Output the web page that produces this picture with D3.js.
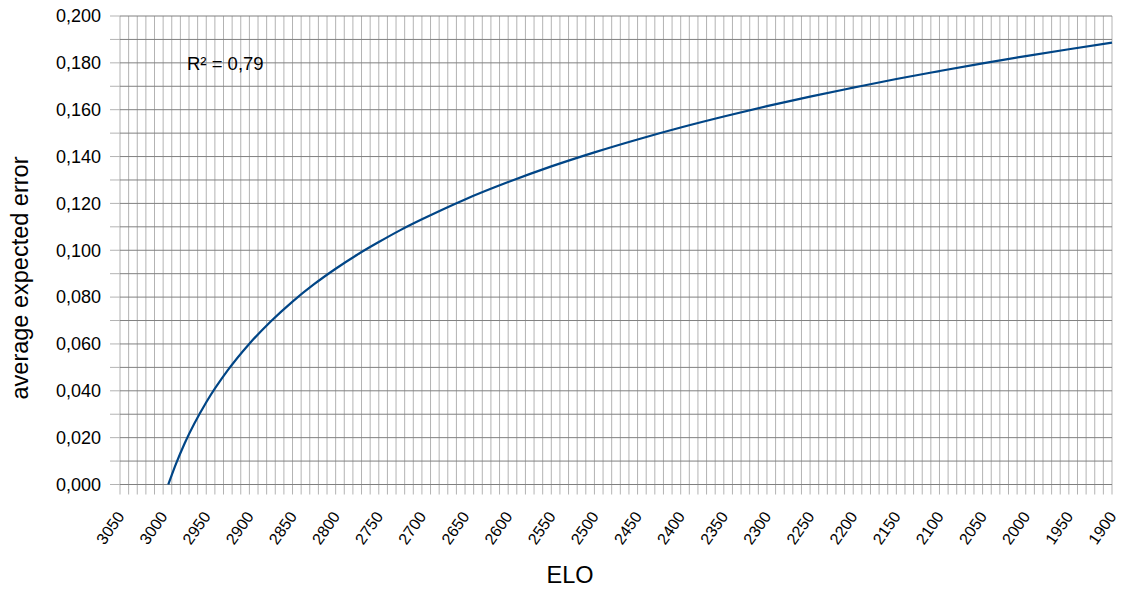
<!DOCTYPE html>
<html>
<head>
<meta charset="utf-8">
<script src="https://cdn.jsdelivr.net/npm/d3@7"></script>
<style>
  html, body { margin: 0; padding: 0; background: #fff; }
  svg { display: block; font-family: "Liberation Sans", Arial, sans-serif; }
</style>
</head>
<body>
<svg id="chart" width="1123" height="592"></svg>
<script>
// Logarithmic trend of the average expected error against ELO rating
const elo = [2994, 2985, 2975, 2950, 2925, 2900, 2875, 2850, 2825, 2800, 2775,
             2750, 2725, 2700, 2650, 2600, 2550, 2500, 2450, 2400, 2350, 2300,
             2250, 2200, 2150, 2100, 2050, 2000, 1950, 1900];
const avgError = [0.0000, 0.0089, 0.0176, 0.0351, 0.0488, 0.0601, 0.0697, 0.0781,
                  0.0855, 0.0921, 0.0981, 0.1035, 0.1086, 0.1132, 0.1217, 0.1291,
                  0.1358, 0.1418, 0.1473, 0.1524, 0.1571, 0.1615, 0.1656, 0.1694,
                  0.1731, 0.1765, 0.1798, 0.1829, 0.1858, 0.1886];

const xTickLabels = d3.range(3050, 1899, -50);          // labelled every 50
const xGridValues = d3.range(3050, 1899, -10);          // grid every 10
const yTickLabels = d3.range(0, 0.2001, 0.02);          // labelled every 0.02
const yGridValues = d3.range(0, 0.2001, 0.01);          // grid every 0.01
const rSquaredText = "R² = 0,79";

const svg = d3.select("#chart");
const plotLeft = 120, plotRight = 1112, plotTop = 16, plotBottom = 484.5;

const x = d3.scaleLinear().domain([3050, 1900]).range([plotLeft, plotRight]);
const y = d3.scaleLinear().domain([0, 0.2]).range([plotBottom, plotTop]);

const fmt = d3.formatLocale({decimal: ",", thousands: ".", grouping: [3], currency: ["", ""]}).format(".3f");

// vertical grid lines
svg.append("g")
  .selectAll("line").data(xGridValues).join("line")
  .attr("x1", d => x(d)).attr("x2", d => x(d))
  .attr("y1", plotTop).attr("y2", plotBottom + 10)
  .attr("stroke", "#b3b3b3").attr("stroke-width", 1);

// horizontal grid lines
svg.append("g")
  .selectAll("line").data(yGridValues).join("line")
  .attr("x1", plotLeft).attr("x2", plotRight)
  .attr("y1", d => y(d)).attr("y2", d => y(d))
  .attr("stroke", "#808080").attr("stroke-width", 1);

// tick marks left of the axis
svg.append("g")
  .selectAll("line").data(yGridValues).join("line")
  .attr("x1", plotLeft - 10).attr("x2", plotLeft)
  .attr("y1", d => y(d)).attr("y2", d => y(d))
  .attr("stroke", "#b3b3b3").attr("stroke-width", 1);

// y axis labels
svg.append("g")
  .selectAll("text").data(yTickLabels).join("text")
  .attr("x", plotLeft - 19).attr("y", d => y(d))
  .attr("dy", "0.35em")
  .attr("text-anchor", "end")
  .attr("font-size", 18)
  .attr("fill", "#000")
  .text(d => fmt(d));

// x axis labels, rotated
svg.append("g")
  .selectAll("text").data(xTickLabels).join("text")
  .attr("transform", d => `translate(${x(d) + 5},${plotBottom + 32}) rotate(-55)`)
  .attr("text-anchor", "end")
  .attr("font-size", 16)
  .attr("fill", "#000")
  .text(d => d);

// trend line
const line = d3.line()
  .x((d, i) => x(elo[i]))
  .y(d => y(d))
  .curve(d3.curveMonotoneX);

svg.append("path")
  .datum(avgError)
  .attr("d", line)
  .attr("fill", "none")
  .attr("stroke", "#004586")
  .attr("stroke-width", 2.2);

// coefficient of determination
svg.append("text")
  .attr("x", 187).attr("y", 70)
  .attr("font-size", 18.5)
  .attr("fill", "#000")
  .text(rSquaredText);

// axis titles
svg.append("text")
  .attr("x", 570).attr("y", 583)
  .attr("text-anchor", "middle")
  .attr("font-size", 23.5)
  .attr("fill", "#000")
  .text("ELO");

svg.append("text")
  .attr("transform", `translate(28,278) rotate(-90)`)
  .attr("text-anchor", "middle")
  .attr("font-size", 23.5)
  .attr("fill", "#000")
  .text("average expected error");
</script>
</body>
</html>
